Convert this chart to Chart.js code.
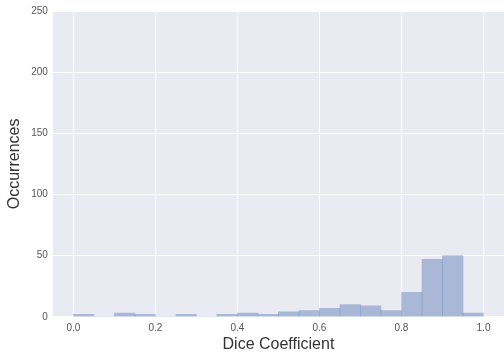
<!DOCTYPE html>
<html>
<head>
<meta charset="utf-8">
<script src="https://cdn.jsdelivr.net/npm/chart.js@4"></script>
<style>
  html, body { margin: 0; padding: 0; background: #fff; }
  #wrap { width: 504px; height: 358px; }
</style>
</head>
<body>
<div id="wrap"><canvas id="myChart"></canvas></div>
<script>
const binCenters = [0.025, 0.075, 0.125, 0.175, 0.225, 0.275, 0.325, 0.375, 0.425, 0.475,
                    0.525, 0.575, 0.625, 0.675, 0.725, 0.775, 0.825, 0.875, 0.925, 0.975];
const counts = [2, 0, 3, 2, 0, 2, 0, 2, 3, 2, 4, 5, 7, 10, 9, 5, 20, 47, 50, 3];
const xTicks = [0.0, 0.2, 0.4, 0.6, 0.8, 1.0];
const yTicks = [0, 50, 100, 150, 200, 250];

const ctx = document.getElementById('myChart');

const bgPlugin = {
    id: 'plotBg',
    beforeDraw(chart) {
        const a = chart.chartArea;
        const c = chart.ctx;
        c.save();
        c.fillStyle = '#EAEAF2';
        c.fillRect(a.left, a.top, a.right - a.left, a.bottom - a.top);
        c.restore();
    }
};

new Chart(ctx, {
    type: 'bar',
    data: {
        datasets: [{
            data: binCenters.map((x, i) => ({ x: x, y: counts[i] })),
            backgroundColor: 'rgba(76,114,176,0.42)',
            borderWidth: 0,
            barPercentage: 1,
            categoryPercentage: 1
        }]
    },
    options: {
        responsive: true,
        maintainAspectRatio: false,
        animation: false,
        layout: { padding: { top: 10, right: 0, left: 5, bottom: 0 } },
        plugins: {
            legend: { display: false },
            tooltip: { enabled: false }
        },
        scales: {
            x: {
                type: 'linear',
                min: -0.05,
                max: 1.05,
                offset: false,
                border: { display: false },
                grid: { color: '#ffffff', lineWidth: 1, drawTicks: false, offset: false },
                afterBuildTicks: axis => { axis.ticks = xTicks.map(v => ({ value: v })); },
                ticks: {
                    padding: 5,
                    color: '#555555',
                    font: { family: 'Liberation Sans', size: 10 },
                    maxRotation: 0,
                    callback: v => v.toFixed(1)
                },
                title: {
                    display: true,
                    text: 'Dice Coefficient',
                    color: '#333333',
                    font: { family: 'Liberation Sans', size: 16 },
                    padding: { top: -4, bottom: 4 }
                }
            },
            y: {
                min: 0,
                max: 250,
                border: { display: false },
                grid: { color: '#ffffff', lineWidth: 1, drawTicks: false },
                afterBuildTicks: axis => { axis.ticks = yTicks.map(v => ({ value: v })); },
                ticks: {
                    padding: 5,
                    color: '#555555',
                    font: { family: 'Liberation Sans', size: 10 }
                },
                title: {
                    display: true,
                    text: 'Occurrences',
                    color: '#333333',
                    font: { family: 'Liberation Sans', size: 16 },
                    padding: { top: 0, bottom: 2 }
                }
            }
        }
    },
    plugins: [bgPlugin]
});
</script>
</body>
</html>
